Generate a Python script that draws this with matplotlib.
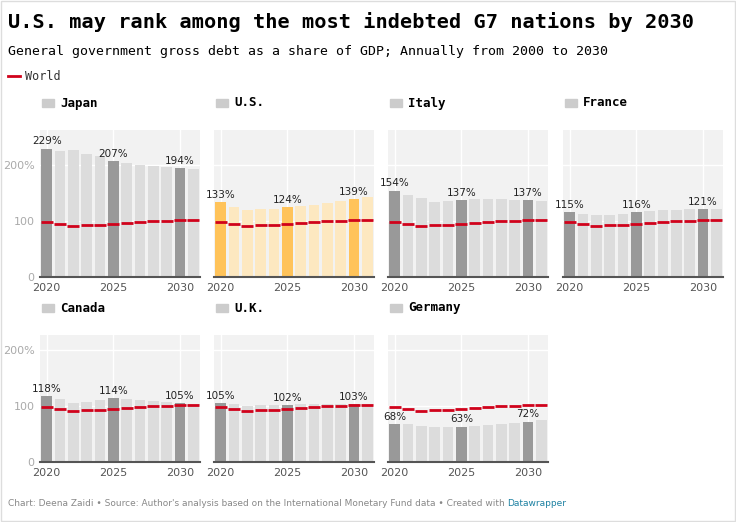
import matplotlib.pyplot as plt
import numpy as np

years = list(range(2020, 2032))
countries = ["Japan", "U.S.", "Italy", "France", "Canada", "U.K.", "Germany"]
debt = {
    "Japan":   [229, 224, 227, 220, 215, 207, 204, 200, 198, 196, 194, 192],
    "U.S.":    [133, 125, 120, 121, 122, 124, 126, 128, 132, 135, 139, 142],
    "Italy":   [154, 146, 140, 134, 135, 137, 139, 139, 139, 138, 137, 136],
    "France":  [115, 113, 111, 110, 113, 116, 118, 119, 120, 121, 121, 121],
    "Canada":  [118, 113, 106, 107, 110, 114, 112, 110, 109, 107, 105, 104],
    "U.K.":    [105, 104, 100, 101, 101, 102, 103, 103, 103, 103, 103, 103],
    "Germany": [68, 68, 65, 63, 63, 63, 64, 66, 68, 70, 72, 74],
}
world = [98, 94, 91, 92, 93, 95, 96, 98, 99, 100, 101, 102]
highlight_years = [2020, 2025, 2030]

W, H = 736, 522
fig = plt.figure(figsize=(W / 100, H / 100), dpi=100)
mono = "DejaVu Sans Mono"

fig.text(8 / W, 1 - 22 / H, "U.S. may rank among the most indebted G7 nations by 2030",
         family=mono, weight="bold", fontsize=14.6, va="center")
fig.text(8 / W, 1 - 51 / H, "General government gross debt as a share of GDP; Annually from 2000 to 2030",
         family=mono, fontsize=9.5, va="center")
fig.lines.append(plt.Line2D([8 / W, 20 / W], [1 - 76 / H] * 2, color="#d0021b", lw=2,
                            transform=fig.transFigure))
fig.text(25 / W, 1 - 76 / H, "World", family=mono, fontsize=8.5, va="center", color="#333")
foot = fig.text(8 / W, 1 - 504 / H,
                "Chart: Deena Zaidi • Source: Author's analysis based on the International Monetary Fund data • Created with ",
                fontsize=6.5, color="#888", va="center")
fig.text(0, 0, "Datawrapper", fontsize=6.5, color="#1d81a2", va="center",
         transform=foot.get_transform())
# place Datawrapper right after footer text
fig.canvas.draw()
bb = foot.get_window_extent()
fig.texts[-1].set_position((bb.x1 / W, 1 - 504 / H))

col_x = [40, 214, 388, 563]
pw = 160
rows = [(130, 277), (335, 462)]
px_per_unit = (277 - 130) / 262

for i, c in enumerate(countries):
    r, col = divmod(i, 4)
    top, bot = rows[r]
    x0 = col_x[col]
    ax = fig.add_axes([x0 / W, 1 - bot / H, pw / W, (bot - top) / H])
    ax.set_facecolor("#f2f2f2")
    if c == "U.S.":
        dark, light = "#ffc35a", "#fde8c0"
    else:
        dark, light = "#999999", "#dcdcdc"
    vals = debt[c]
    colors = [dark if y in highlight_years else light for y in years]
    ax.bar(years, vals, width=0.8, color=colors, zorder=2)
    for y, v, w in zip(years, vals, world):
        ax.hlines(w, y - 0.45, y + 0.45, color="#d0021b", lw=2, zorder=3)
        if y in highlight_years:
            ax.text(y, v + 4, f"{v}%", ha="center", va="bottom", fontsize=7.5, color="#222", zorder=4)
    ax.set_xlim(2019.5, 2031.5)
    ax.set_ylim(0, (bot - top) / px_per_unit)
    ax.set_yticks([0, 100, 200])
    ax.set_xticks(highlight_years)
    ax.grid(color="white", lw=1, zorder=1)
    for s in ["top", "right", "left"]:
        ax.spines[s].set_visible(False)
    ax.spines["bottom"].set_color("#555")
    ax.spines["bottom"].set_linewidth(1.5)
    ax.tick_params(length=0, labelsize=8, colors="#555", pad=4)
    if col == 0:
        ax.set_yticklabels(["0", "100", "200%"], color="#aaa")
    else:
        ax.set_yticklabels([])
    fig.text((x0 + 20) / W, 1 - (top - 27) / H, c, family=mono, weight="bold",
             fontsize=9, va="center")
    fig.patches.append(plt.Rectangle(((x0 + 2) / W, 1 - (top - 23) / H), 12 / W, 8 / H,
                                     transform=fig.transFigure, color="#cccccc"))

fig.patches.append(plt.Rectangle((0.001, 0.001), 0.997, 0.997, transform=fig.transFigure,
                                 fill=False, ec="#dddddd", lw=1))
fig.savefig("out.png", dpi=100)
